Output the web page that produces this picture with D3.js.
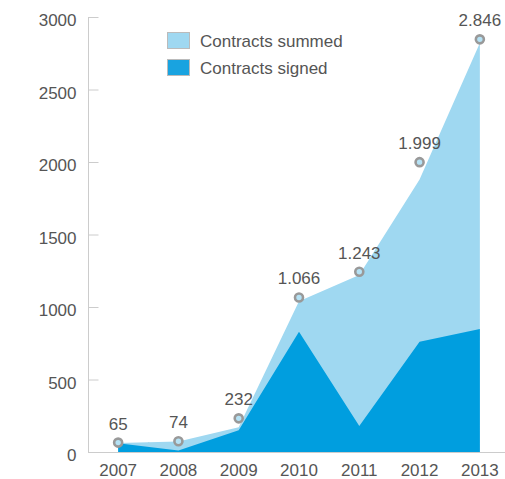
<!DOCTYPE html>
<html>
<head>
<meta charset="utf-8">
<script src="https://cdn.jsdelivr.net/npm/d3@7"></script>
<style>
  body { margin: 0; background: #fff; }
  text { font-family: "Liberation Sans", Arial, Helvetica, sans-serif; fill: #555; }
</style>
</head>
<body>
<div id="chart"></div>
<script>
// data
var years = ["2007", "2008", "2009", "2010", "2011", "2012", "2013"];
var summedLabels = [65, 74, 232, 1066, 1243, 1999, 2846];
var summedArea = [62, 72, 170, 1040, 1220, 1880, 2820];
var signed = [60, 10, 150, 830, 180, 760, 848];
var yTicks = [0, 500, 1000, 1500, 2000, 2500, 3000];
var legendItems = ["Contracts summed", "Contracts signed"];

var W = 505, H = 479;
var lightBlue = "#9fd8f1", darkBlue = "#009edf";

var svg = d3.select("#chart").append("svg")
    .attr("width", W).attr("height", H);

var x = d3.scaleBand().domain(years).range([88, 510]);
var cx = function(d) { return x(d) + x.bandwidth() / 2; };
var y = d3.scaleLinear().domain([0, 3000]).range([452, 17]);

// x ticks between categories (mostly hidden under areas)
svg.append("g")
  .selectAll("line")
  .data(years)
  .join("line")
    .attr("x1", d => x(d) + 0.5).attr("x2", d => x(d) + 0.5)
    .attr("y1", y(0)).attr("y2", y(0) - 10)
    .attr("stroke", "#ccc");

// areas
var area = d3.area()
    .x((d, i) => cx(years[i]))
    .y0(y(0))
    .y1(d => y(d));

svg.append("path")
    .datum(summedArea)
    .attr("d", area)
    .attr("fill", lightBlue);

svg.append("path")
    .datum(signed)
    .attr("d", area)
    .attr("fill", darkBlue);

// y axis
var yAxis = d3.axisLeft(y).tickValues(yTicks).tickFormat(d3.format("d"))
    .tickSize(-10).tickPadding(12);
var gy = svg.append("g")
    .attr("transform", "translate(88.5,0)")
    .call(yAxis);
gy.select(".domain").attr("stroke", "#ccc").attr("d", "M0," + y(3000) + "V" + y(0));
gy.selectAll(".tick line").attr("stroke", "#ccc");
gy.selectAll(".tick text")
    .style("font-size", "17px")
    .attr("dy", "0.5em")
    .attr("fill", "#555");

// x axis baseline + labels
svg.append("line")
    .attr("x1", 88).attr("x2", W)
    .attr("y1", y(0) + 0.5).attr("y2", y(0) + 0.5)
    .attr("stroke", "#ccc");

svg.append("g")
  .selectAll("text")
  .data(years)
  .join("text")
    .attr("x", d => cx(d))
    .attr("y", 476)
    .attr("text-anchor", "middle")
    .style("font-size", "17px")
    .text(d => d);

// markers + value labels
var fmt = function(v) { return v >= 1000 ? d3.format(",")(v).replace(",", ".") : String(v); };

svg.append("g")
  .selectAll("circle")
  .data(summedLabels)
  .join("circle")
    .attr("cx", (d, i) => cx(years[i]))
    .attr("cy", d => y(d))
    .attr("r", 4)
    .attr("fill", "#b5e2f5")
    .attr("stroke", "#999")
    .attr("stroke-width", 2.6);

svg.append("g")
  .selectAll("text")
  .data(summedLabels)
  .join("text")
    .attr("x", (d, i) => cx(years[i]))
    .attr("y", d => y(d) - 13)
    .attr("text-anchor", "middle")
    .style("font-size", "17px")
    .text(d => fmt(d));

// legend
var legend = svg.append("g").attr("transform", "translate(167,32)");
legend.selectAll("rect")
  .data(legendItems)
  .join("rect")
    .attr("x", 0.5)
    .attr("y", (d, i) => i * 27 + 0.5)
    .attr("width", 22).attr("height", 16)
    .attr("fill", (d, i) => i ? "#19a3e0" : "#9fd8f1")
    .attr("stroke", "#bbb");
legend.selectAll("text")
  .data(legendItems)
  .join("text")
    .attr("x", 33)
    .attr("y", (d, i) => i * 27 + 15)
    .style("font-size", "17px")
    .text(d => d);
</script>
</body>
</html>
